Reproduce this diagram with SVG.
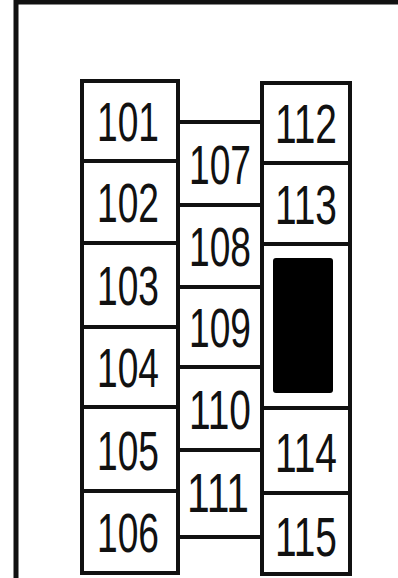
<svg xmlns="http://www.w3.org/2000/svg" width="398" height="578" viewBox="0 0 398 578">
<style>
.box{fill:#fff;stroke:#111;stroke-width:4}
.lbl{font-family:"Liberation Sans",Arial,sans-serif;font-size:56px;fill:#111;text-anchor:middle}
</style>
<rect width="398" height="578" fill="#fff"/>
<path d="M16,578 V2 H398" fill="none" stroke="#111" stroke-width="5"/>
<g id="f101"><rect class="box" x="82" y="81" width="96" height="80"/><text class="lbl" x="128" y="141" textLength="62" lengthAdjust="spacingAndGlyphs">101</text></g>
<g id="f102"><rect class="box" x="82" y="161" width="96" height="82"/><text class="lbl" x="128" y="222" textLength="62" lengthAdjust="spacingAndGlyphs">102</text></g>
<g id="f103"><rect class="box" x="82" y="243" width="96" height="84"/><text class="lbl" x="128" y="305" textLength="62" lengthAdjust="spacingAndGlyphs">103</text></g>
<g id="f104"><rect class="box" x="82" y="327" width="96" height="80"/><text class="lbl" x="128" y="387" textLength="62" lengthAdjust="spacingAndGlyphs">104</text></g>
<g id="f105"><rect class="box" x="82" y="407" width="96" height="84"/><text class="lbl" x="128" y="470" textLength="62" lengthAdjust="spacingAndGlyphs">105</text></g>
<g id="f106"><rect class="box" x="82" y="491" width="96" height="82"/><text class="lbl" x="128" y="552" textLength="62" lengthAdjust="spacingAndGlyphs">106</text></g>
<g id="f107"><rect class="box" x="178" y="122" width="84" height="83"/><text class="lbl" x="220" y="184" textLength="62" lengthAdjust="spacingAndGlyphs">107</text></g>
<g id="f108"><rect class="box" x="178" y="205" width="84" height="82"/><text class="lbl" x="220" y="266" textLength="62" lengthAdjust="spacingAndGlyphs">108</text></g>
<g id="f109"><rect class="box" x="178" y="287" width="84" height="80"/><text class="lbl" x="220" y="347" textLength="62" lengthAdjust="spacingAndGlyphs">109</text></g>
<g id="f110"><rect class="box" x="178" y="367" width="84" height="83"/><text class="lbl" x="220" y="429" textLength="62" lengthAdjust="spacingAndGlyphs">110</text></g>
<g id="f111"><rect class="box" x="178" y="450" width="84" height="87"/><text class="lbl" x="218" y="512" textLength="62" lengthAdjust="spacingAndGlyphs">111</text></g>
<g id="f112"><rect class="box" x="262" y="83" width="88" height="80"/><text class="lbl" x="306" y="143" textLength="62" lengthAdjust="spacingAndGlyphs">112</text></g>
<g id="f113"><rect class="box" x="262" y="163" width="88" height="81"/><text class="lbl" x="306" y="224" textLength="62" lengthAdjust="spacingAndGlyphs">113</text></g>
<g id="blank"><rect class="box" x="262" y="244" width="88" height="164"/><rect x="273" y="258" width="60" height="135" rx="3" fill="#000"/></g>
<g id="f114"><rect class="box" x="262" y="408" width="88" height="85"/><text class="lbl" x="306" y="472" textLength="62" lengthAdjust="spacingAndGlyphs">114</text></g>
<g id="f115"><rect class="box" x="262" y="493" width="88" height="81"/><text class="lbl" x="306" y="556" textLength="62" lengthAdjust="spacingAndGlyphs">115</text></g>
<g id="connectors"/>
</svg>
